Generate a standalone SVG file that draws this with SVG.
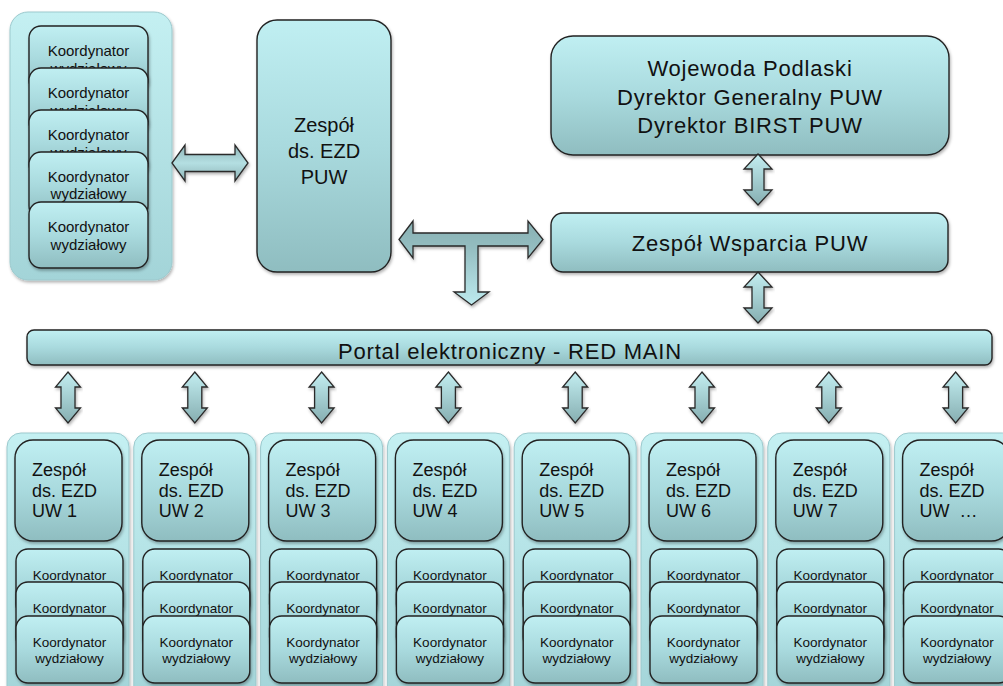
<svg xmlns="http://www.w3.org/2000/svg" width="1003" height="686" viewBox="0 0 1003 686">
  <defs>
    <linearGradient id="gBox" x1="0" y1="0" x2="0" y2="1">
      <stop offset="0" stop-color="#c0eff2"/>
      <stop offset="0.5" stop-color="#a9dade"/>
      <stop offset="1" stop-color="#8fbdc0"/>
    </linearGradient>
    <linearGradient id="gOuter" x1="0" y1="0" x2="0" y2="1">
      <stop offset="0" stop-color="#c4f0f2"/>
      <stop offset="1" stop-color="#a3d4d8"/>
    </linearGradient>
    <linearGradient id="gArrowV" x1="0" y1="0" x2="0" y2="1">
      <stop offset="0" stop-color="#c3eef1"/>
      <stop offset="1" stop-color="#86aeb1"/>
    </linearGradient>
    <linearGradient id="gArrowH" x1="0" y1="0" x2="0" y2="1">
      <stop offset="0" stop-color="#8db3b6"/>
      <stop offset="0.5" stop-color="#b4dfe2"/>
      <stop offset="1" stop-color="#8db3b6"/>
    </linearGradient>
    <linearGradient id="gArrowT" x1="0" y1="0" x2="0" y2="1">
      <stop offset="0" stop-color="#88b0b3"/>
      <stop offset="0.3" stop-color="#93bcbf"/>
      <stop offset="1" stop-color="#bdeaee"/>
    </linearGradient>
    <filter id="shadow" x="-10%" y="-10%" width="120%" height="130%">
      <feDropShadow dx="1" dy="2" stdDeviation="1.5" flood-color="#000" flood-opacity="0.3"/>
    </filter>
  </defs>
  <style>
    text { font-family: "Liberation Sans", Arial, sans-serif; fill: #111; }
    .box { fill: url(#gBox); stroke: #222; stroke-width: 1.4; filter: url(#shadow); }
    .outer { fill: url(#gOuter); stroke: #9cc9cd; stroke-width: 1; filter: url(#shadow); }
    .arrow { stroke: #2a2a2a; stroke-width: 1.3; stroke-linejoin: miter; filter: url(#shadow); }
    .big { font-size: 22px; letter-spacing: 0.8px; text-anchor: middle; }
    .mid { font-size: 20px; text-anchor: middle; }
    .uw { font-size: 18px; }
    .koord { font-size: 15px; text-anchor: middle; }
    .koordS { font-size: 13.5px; text-anchor: middle; }
  </style>
  <rect width="1003" height="686" fill="#ffffff"/>

  <!-- top-left stack of department coordinators -->
  <g id="koordynatorzy-puw">
    <rect class="outer" x="10" y="12" width="162" height="268" rx="18"/>
    <rect class="box" x="29" y="26" width="119" height="66" rx="12"/>
    <text class="koord" x="88.5" y="56">Koordynator</text>
    <text class="koord" x="88.5" y="74">wydziałowy</text>
    <rect class="box" x="29" y="68" width="119" height="66" rx="12"/>
    <text class="koord" x="88.5" y="98">Koordynator</text>
    <text class="koord" x="88.5" y="116">wydziałowy</text>
    <rect class="box" x="29" y="110" width="119" height="66" rx="12"/>
    <text class="koord" x="88.5" y="140">Koordynator</text>
    <text class="koord" x="88.5" y="158">wydziałowy</text>
    <rect class="box" x="29" y="152" width="119" height="66" rx="12"/>
    <text class="koord" x="88.5" y="182">Koordynator</text>
    <text class="koord" x="88.5" y="199">wydziałowy</text>
    <rect class="box" x="29" y="202" width="119" height="66" rx="12"/>
    <text class="koord" x="88.5" y="232">Koordynator</text>
    <text class="koord" x="88.5" y="250">wydziałowy</text>
  </g>

  <g id="zespol-puw">
    <rect class="box" x="257" y="20" width="134" height="252" rx="20"/>
    <text class="mid" x="324" y="132">Zespół</text>
    <text class="mid" x="324" y="158">ds. EZD</text>
    <text class="mid" x="324" y="184">PUW</text>
  </g>

  <g id="wojewoda">
    <rect class="box" x="551" y="36" width="398" height="119" rx="22"/>
    <text class="big" x="750" y="76">Wojewoda Podlaski</text>
    <text class="big" x="750" y="105">Dyrektor Generalny PUW</text>
    <text class="big" x="750" y="133">Dyrektor BIRST PUW</text>
  </g>

  <g id="zespol-wsparcia">
    <rect class="box" x="551" y="213" width="397" height="59" rx="12"/>
    <text class="big" x="750" y="251">Zespół Wsparcia PUW</text>
  </g>

  <g id="portal">
    <rect class="box" x="27" y="330" width="965" height="35" rx="7"/>
    <text class="big" x="510" y="359">Portal elektroniczny - RED MAIN</text>
  </g>

  <!-- regional offices: team box on top, coordinator stack below -->
  <g id="uw-1" transform="translate(7,0)">
    <rect class="outer" x="0" y="433" width="122" height="270" rx="14"/>
    <rect class="box" x="8" y="440" width="107" height="101" rx="18"/>
    <text class="uw" x="25" y="476">Zespół</text>
    <text class="uw" x="25" y="497">ds. EZD</text>
    <text class="uw" x="25" y="517">UW 1</text>
    <rect class="box" x="9" y="549" width="107" height="67" rx="12"/>
    <text class="koordS" x="62.5" y="580">Koordynator</text>
    <rect class="box" x="9" y="582" width="107" height="67" rx="12"/>
    <text class="koordS" x="62.5" y="613">Koordynator</text>
    <rect class="box" x="9" y="616" width="107" height="67" rx="12"/>
    <text class="koordS" x="62.5" y="647">Koordynator</text>
    <text class="koordS" x="62.5" y="663">wydziałowy</text>
  </g>
  <g id="uw-2" transform="translate(133.8,0)">
    <rect class="outer" x="0" y="433" width="122" height="270" rx="14"/>
    <rect class="box" x="8" y="440" width="107" height="101" rx="18"/>
    <text class="uw" x="25" y="476">Zespół</text>
    <text class="uw" x="25" y="497">ds. EZD</text>
    <text class="uw" x="25" y="517">UW 2</text>
    <rect class="box" x="9" y="549" width="107" height="67" rx="12"/>
    <text class="koordS" x="62.5" y="580">Koordynator</text>
    <rect class="box" x="9" y="582" width="107" height="67" rx="12"/>
    <text class="koordS" x="62.5" y="613">Koordynator</text>
    <rect class="box" x="9" y="616" width="107" height="67" rx="12"/>
    <text class="koordS" x="62.5" y="647">Koordynator</text>
    <text class="koordS" x="62.5" y="663">wydziałowy</text>
  </g>
  <g id="uw-3" transform="translate(260.6,0)">
    <rect class="outer" x="0" y="433" width="122" height="270" rx="14"/>
    <rect class="box" x="8" y="440" width="107" height="101" rx="18"/>
    <text class="uw" x="25" y="476">Zespół</text>
    <text class="uw" x="25" y="497">ds. EZD</text>
    <text class="uw" x="25" y="517">UW 3</text>
    <rect class="box" x="9" y="549" width="107" height="67" rx="12"/>
    <text class="koordS" x="62.5" y="580">Koordynator</text>
    <rect class="box" x="9" y="582" width="107" height="67" rx="12"/>
    <text class="koordS" x="62.5" y="613">Koordynator</text>
    <rect class="box" x="9" y="616" width="107" height="67" rx="12"/>
    <text class="koordS" x="62.5" y="647">Koordynator</text>
    <text class="koordS" x="62.5" y="663">wydziałowy</text>
  </g>
  <g id="uw-4" transform="translate(387.4,0)">
    <rect class="outer" x="0" y="433" width="122" height="270" rx="14"/>
    <rect class="box" x="8" y="440" width="107" height="101" rx="18"/>
    <text class="uw" x="25" y="476">Zespół</text>
    <text class="uw" x="25" y="497">ds. EZD</text>
    <text class="uw" x="25" y="517">UW 4</text>
    <rect class="box" x="9" y="549" width="107" height="67" rx="12"/>
    <text class="koordS" x="62.5" y="580">Koordynator</text>
    <rect class="box" x="9" y="582" width="107" height="67" rx="12"/>
    <text class="koordS" x="62.5" y="613">Koordynator</text>
    <rect class="box" x="9" y="616" width="107" height="67" rx="12"/>
    <text class="koordS" x="62.5" y="647">Koordynator</text>
    <text class="koordS" x="62.5" y="663">wydziałowy</text>
  </g>
  <g id="uw-5" transform="translate(514.2,0)">
    <rect class="outer" x="0" y="433" width="122" height="270" rx="14"/>
    <rect class="box" x="8" y="440" width="107" height="101" rx="18"/>
    <text class="uw" x="25" y="476">Zespół</text>
    <text class="uw" x="25" y="497">ds. EZD</text>
    <text class="uw" x="25" y="517">UW 5</text>
    <rect class="box" x="9" y="549" width="107" height="67" rx="12"/>
    <text class="koordS" x="62.5" y="580">Koordynator</text>
    <rect class="box" x="9" y="582" width="107" height="67" rx="12"/>
    <text class="koordS" x="62.5" y="613">Koordynator</text>
    <rect class="box" x="9" y="616" width="107" height="67" rx="12"/>
    <text class="koordS" x="62.5" y="647">Koordynator</text>
    <text class="koordS" x="62.5" y="663">wydziałowy</text>
  </g>
  <g id="uw-6" transform="translate(641,0)">
    <rect class="outer" x="0" y="433" width="122" height="270" rx="14"/>
    <rect class="box" x="8" y="440" width="107" height="101" rx="18"/>
    <text class="uw" x="25" y="476">Zespół</text>
    <text class="uw" x="25" y="497">ds. EZD</text>
    <text class="uw" x="25" y="517">UW 6</text>
    <rect class="box" x="9" y="549" width="107" height="67" rx="12"/>
    <text class="koordS" x="62.5" y="580">Koordynator</text>
    <rect class="box" x="9" y="582" width="107" height="67" rx="12"/>
    <text class="koordS" x="62.5" y="613">Koordynator</text>
    <rect class="box" x="9" y="616" width="107" height="67" rx="12"/>
    <text class="koordS" x="62.5" y="647">Koordynator</text>
    <text class="koordS" x="62.5" y="663">wydziałowy</text>
  </g>
  <g id="uw-7" transform="translate(767.8,0)">
    <rect class="outer" x="0" y="433" width="122" height="270" rx="14"/>
    <rect class="box" x="8" y="440" width="107" height="101" rx="18"/>
    <text class="uw" x="25" y="476">Zespół</text>
    <text class="uw" x="25" y="497">ds. EZD</text>
    <text class="uw" x="25" y="517">UW 7</text>
    <rect class="box" x="9" y="549" width="107" height="67" rx="12"/>
    <text class="koordS" x="62.5" y="580">Koordynator</text>
    <rect class="box" x="9" y="582" width="107" height="67" rx="12"/>
    <text class="koordS" x="62.5" y="613">Koordynator</text>
    <rect class="box" x="9" y="616" width="107" height="67" rx="12"/>
    <text class="koordS" x="62.5" y="647">Koordynator</text>
    <text class="koordS" x="62.5" y="663">wydziałowy</text>
  </g>
  <g id="uw-8" transform="translate(894.6,0)">
    <rect class="outer" x="0" y="433" width="122" height="270" rx="14"/>
    <rect class="box" x="8" y="440" width="107" height="101" rx="18"/>
    <text class="uw" x="25" y="476">Zespół</text>
    <text class="uw" x="25" y="497">ds. EZD</text>
    <text class="uw" x="25" y="517">UW&#160; …</text>
    <rect class="box" x="9" y="549" width="107" height="67" rx="12"/>
    <text class="koordS" x="62.5" y="580">Koordynator</text>
    <rect class="box" x="9" y="582" width="107" height="67" rx="12"/>
    <text class="koordS" x="62.5" y="613">Koordynator</text>
    <rect class="box" x="9" y="616" width="107" height="67" rx="12"/>
    <text class="koordS" x="62.5" y="647">Koordynator</text>
    <text class="koordS" x="62.5" y="663">wydziałowy</text>
  </g>

  <!-- block arrows -->
  <g id="connectors">
    <path class="arrow" fill="url(#gArrowH)" d="M172,163 L185,145 L185,154.5 L235,154.5 L235,145 L248,163 L235,181 L235,171.5 L185,171.5 L185,181 Z"/>
    <path class="arrow" fill="url(#gArrowT)" d="M399,239.5 L413,221 L413,233 L528,233 L528,221 L543,239.5 L528,258 L528,246 L478,246 L478,292 L489,292 L471.5,305 L454,292 L465,292 L465,246 L413,246 L413,258 Z"/>
    <path class="arrow" fill="url(#gArrowV)" d="M758,154 L772,169 L764,169 L764,190 L772,190 L758,205 L744,190 L752,190 L752,169 L744,169 Z"/>
    <path class="arrow" fill="url(#gArrowV)" d="M758,272 L772,287 L764,287 L764,308 L772,308 L758,323 L744,308 L752,308 L752,287 L744,287 Z"/>
    <g fill="url(#gArrowV)">
      <path id="v1" class="arrow" d="M68,372 L80.5,387 L75,387 L75,408 L80.5,408 L68,423 L55.5,408 L61,408 L61,387 L55.5,387 Z"/>
      <path class="arrow" transform="translate(126.8,0)" d="M68,372 L80.5,387 L75,387 L75,408 L80.5,408 L68,423 L55.5,408 L61,408 L61,387 L55.5,387 Z"/>
      <path class="arrow" transform="translate(253.6,0)" d="M68,372 L80.5,387 L75,387 L75,408 L80.5,408 L68,423 L55.5,408 L61,408 L61,387 L55.5,387 Z"/>
      <path class="arrow" transform="translate(380.4,0)" d="M68,372 L80.5,387 L75,387 L75,408 L80.5,408 L68,423 L55.5,408 L61,408 L61,387 L55.5,387 Z"/>
      <path class="arrow" transform="translate(507.2,0)" d="M68,372 L80.5,387 L75,387 L75,408 L80.5,408 L68,423 L55.5,408 L61,408 L61,387 L55.5,387 Z"/>
      <path class="arrow" transform="translate(634,0)" d="M68,372 L80.5,387 L75,387 L75,408 L80.5,408 L68,423 L55.5,408 L61,408 L61,387 L55.5,387 Z"/>
      <path class="arrow" transform="translate(760.8,0)" d="M68,372 L80.5,387 L75,387 L75,408 L80.5,408 L68,423 L55.5,408 L61,408 L61,387 L55.5,387 Z"/>
      <path class="arrow" transform="translate(887.6,0)" d="M68,372 L80.5,387 L75,387 L75,408 L80.5,408 L68,423 L55.5,408 L61,408 L61,387 L55.5,387 Z"/>
    </g>
  </g>
</svg>
